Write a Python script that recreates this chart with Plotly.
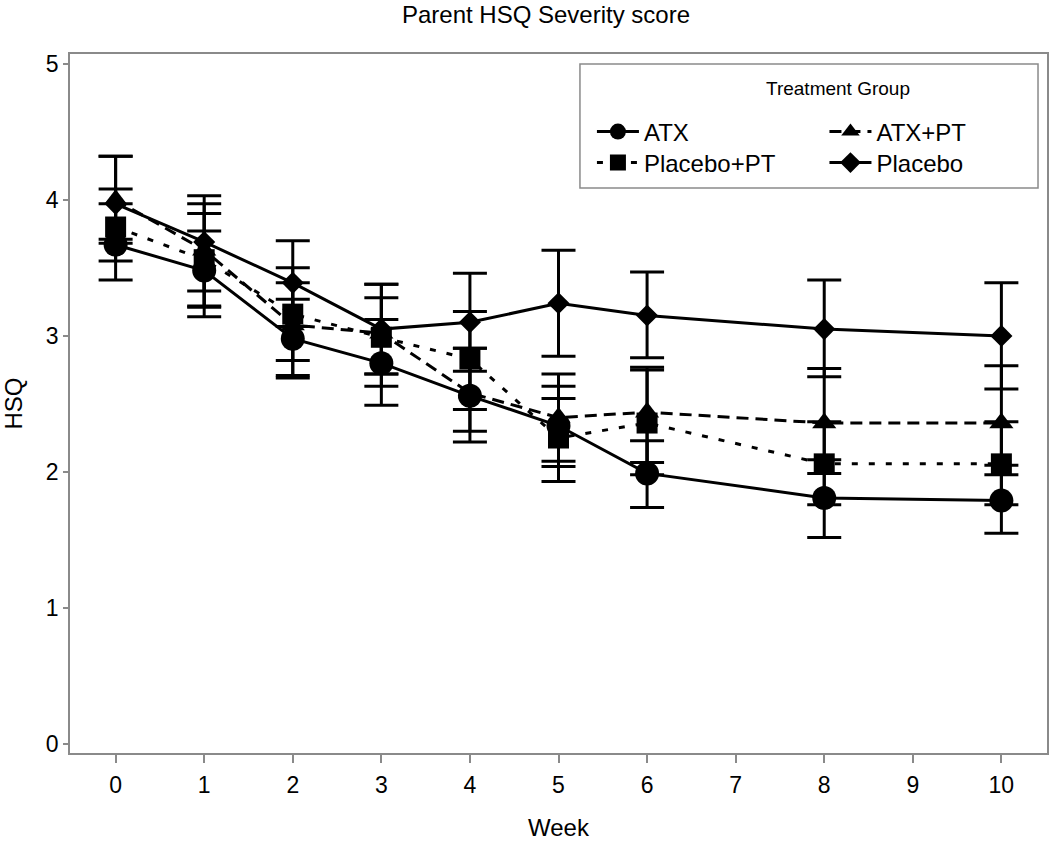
import plotly.graph_objects as go

weeks = [0, 1, 2, 3, 4, 5, 6, 8, 10]

groups = ["ATX", "ATX+PT", "Placebo+PT", "Placebo"]

atx_mean = [3.67, 3.48, 2.98, 2.80, 2.56, 2.34, 1.99, 1.81, 1.79]
atx_lo = [3.41, 3.14, 2.69, 2.49, 2.22, 2.04, 1.74, 1.52, 1.55]
atx_hi = [3.97, 3.77, 3.27, 3.12, 2.91, 2.63, 2.23, 2.09, 2.05]

atxpt_mean = [4.00, 3.63, 3.08, 3.02, 2.58, 2.40, 2.44, 2.36, 2.36]
atxpt_lo = [3.68, 3.21, 2.71, 2.72, 2.30, 2.08, 2.07, 1.99, 1.98]
atxpt_hi = [4.32, 3.97, 3.39, 3.28, 2.91, 2.72, 2.77, 2.76, 2.78]

plpt_mean = [3.80, 3.56, 3.16, 2.99, 2.83, 2.25, 2.36, 2.06, 2.06]
plpt_lo = [3.55, 3.22, 2.82, 2.63, 2.46, 1.93, 1.98, 1.76, 1.76]
plpt_hi = [4.08, 3.90, 3.50, 3.38, 3.18, 2.54, 2.75, 2.37, 2.37]

pl_mean = [3.97, 3.69, 3.39, 3.05, 3.10, 3.24, 3.15, 3.05, 3.00]
pl_lo = [3.71, 3.33, 3.07, 2.72, 2.74, 2.85, 2.84, 2.70, 2.61]
pl_hi = [4.32, 4.03, 3.70, 3.38, 3.46, 3.63, 3.47, 3.41, 3.39]

x_ticks = [0, 1, 2, 3, 4, 5, 6, 7, 8, 9, 10]
y_ticks = [0, 1, 2, 3, 4, 5]

FONT = "Liberation Sans, Arial, sans-serif"

# figure geometry (px)
W, H = 1050, 841
ML, MR, MT, MB = 70, 1, 54, 88
PW, PH = W - ML - MR, H - MT - MB


def px_x(px):
    return (px - ML) / PW


def px_y(py):
    return (H - MB - py) / PH


series = [
    (groups[0], atx_mean, atx_lo, atx_hi, "circle", 24, "solid", "legend", (593, 132)),
    (groups[1], atxpt_mean, atxpt_lo, atxpt_hi, "triangle-up", 21, "12px,7px", "legend2", (826, 132)),
    (groups[2], plpt_mean, plpt_lo, plpt_hi, "square", 21, "6px,11px", "legend3", (593, 163)),
    (groups[3], pl_mean, pl_lo, pl_hi, "diamond", 17, "solid", "legend4", (826, 163)),
]

fig = go.Figure()
legends = {}
for name, m, lo, hi, sym, size, dash, leg, (lx, ly) in series:
    fig.add_trace(go.Scatter(
        x=weeks, y=m, name=name, mode="lines+markers", legend=leg,
        line=dict(color="black", width=3, dash=dash),
        marker=dict(symbol=sym, size=size, color="black", line=dict(width=0)),
        error_y=dict(type="data", symmetric=False,
                     array=[h - v for h, v in zip(hi, m)],
                     arrayminus=[v - l for l, v in zip(lo, m)],
                     color="black", thickness=3, width=17),
    ))
    legends[leg] = dict(
        x=px_x(lx), y=px_y(ly), xanchor="left", yanchor="middle",
        orientation="v", borderwidth=0, bgcolor="rgba(0,0,0,0)",
        itemwidth=42, font=dict(size=24, family=FONT, color="black"),
    )

fig.update_layout(
    width=W, height=H,
    margin=dict(l=ML, r=MR, t=MT, b=MB),
    paper_bgcolor="white", plot_bgcolor="white",
    font=dict(family=FONT, color="black", size=22),
    title=dict(text="Parent HSQ Severity score", x=546 / W, xref="container",
               xanchor="center", y=1 - 15 / H, yref="container", yanchor="middle",
               font=dict(size=24, family=FONT, color="black")),
    xaxis=dict(range=[-0.515, 10.515], tickvals=x_ticks, ticktext=[str(t) for t in x_ticks],
               showline=True, mirror=True, linecolor="#8a8a8a", linewidth=1.5,
               ticks="outside", ticklen=8, tickcolor="#8a8a8a", tickwidth=1.5,
               showgrid=False, zeroline=False, tickfont=dict(size=23),
               ticklabelstandoff=3,
               title=dict(text="Week", font=dict(size=24), standoff=23)),
    yaxis=dict(range=[-0.064, 5.071], tickvals=y_ticks, ticktext=[str(t) for t in y_ticks],
               showline=True, mirror=True, linecolor="#8a8a8a", linewidth=1.5,
               ticks="outside", ticklen=5, tickcolor="#8a8a8a", tickwidth=1.5,
               showgrid=False, zeroline=False, tickfont=dict(size=23),
               title=dict(text="HSQ", font=dict(size=24), standoff=22)),
    showlegend=True,
    shapes=[dict(type="rect", xref="paper", yref="paper",
                 x0=px_x(581), x1=px_x(1040), y0=px_y(188), y1=px_y(64),
                 line=dict(color="#8a8a8a", width=1.5), fillcolor="white", layer="below")],
    annotations=[dict(text="Treatment Group", xref="paper", yref="paper",
                      x=px_x(840), y=px_y(89), xanchor="center", yanchor="middle",
                      showarrow=False, font=dict(size=19, family=FONT, color="black"))],
    **legends,
)

fig.write_html("out.html", config={"displayModeBar": False},
               post_script="document.body.style.margin='0';")
